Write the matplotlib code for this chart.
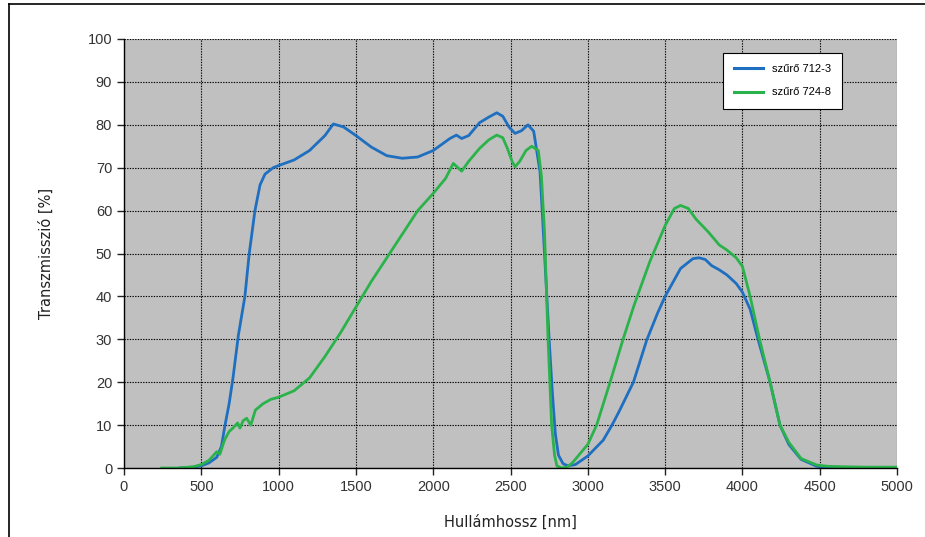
import matplotlib
matplotlib.use("Agg")
import matplotlib.pyplot as plt
from matplotlib.lines import Line2D

## DATA
# szűrő 712-3 (blue)
blue_nm = [360, 450, 500, 550, 600, 630, 653, 680, 705, 740, 782, 810, 847, 880, 912, 965, 1000,
           1100, 1200, 1300, 1354, 1420, 1500, 1600, 1700, 1800, 1900, 2000, 2108, 2150, 2184,
           2230, 2300, 2360, 2411, 2450, 2490, 2529, 2570, 2613, 2650, 2691, 2705, 2720, 2735,
           2750, 2770, 2790, 2810, 2840, 2872, 2920, 3000, 3100, 3155, 3200, 3295, 3381, 3450,
           3500, 3600, 3680, 3720, 3760, 3800, 3850, 3900, 3960, 4000, 4050, 4101, 4179, 4243,
           4300, 4380, 4481, 4550, 4650, 4800, 5000]
blue_val = [0, 0.2, 0.5, 1.2, 2.5, 5, 9.9, 15, 21, 31, 40, 50, 60, 66, 68.5, 70, 70.5,
            71.8, 74, 77.5, 80.2, 79.5, 77.5, 74.8, 72.8, 72.2, 72.5, 74, 76.8, 77.6, 76.8,
            77.5, 80.5, 81.8, 82.8, 82, 79.5, 78, 78.6, 80, 78.5, 69, 60, 50, 40,
            30, 18, 8, 3, 1, 0.5, 0.8, 2.8, 6.5, 9.9, 13, 20, 29.8, 36,
            40, 46.5, 48.8, 49, 48.6, 47.2, 46.2, 45, 43, 41, 37, 30, 20, 10,
            5.5, 2, 0.4, 0.2, 0.1, 0, 0]

# szűrő 724-8 (green)
green_nm = [244, 350, 450, 500, 550, 580, 600, 620, 650, 680, 710, 735, 750, 770, 793, 820,
            850, 900, 950, 1000, 1100, 1200, 1300, 1400, 1500, 1600, 1700, 1800, 1900, 2000,
            2080, 2130, 2160, 2184, 2230, 2300, 2360, 2411, 2450, 2480, 2510, 2529, 2560, 2600,
            2637, 2680, 2700, 2720, 2743, 2766, 2785, 2800, 2830, 2865, 2900, 3000, 3057, 3144,
            3228, 3300, 3400, 3500, 3560, 3600, 3650, 3700, 3780, 3850, 3900, 3960, 4000, 4050,
            4111, 4179, 4243, 4300, 4380, 4481, 4550, 4650, 4800, 5000]
green_val = [0, 0, 0.3, 0.8, 1.8, 3, 3.8, 3.2, 6.5, 8.5, 9.5, 10.5, 9.3, 11, 11.6, 10,
             13.5, 15, 16, 16.5, 18, 21, 26, 31.5, 37.5, 43.5, 49, 54.5, 60, 64,
             67.5, 71, 70, 69.2, 71.5, 74.5, 76.5, 77.6, 77, 74.5, 71.5, 70.2, 71.5, 74,
             75, 74, 68, 55, 30, 10, 3, 0.5, 0, 0.2, 1.2, 5.5, 10, 20,
             30, 38, 48, 56.5, 60.5, 61.2, 60.5, 58, 55, 52, 50.8, 49, 47, 40,
             30, 20, 10, 6, 2.2, 0.7, 0.4, 0.3, 0.2, 0.2]

x_ticks = list(range(0, 5001, 500))
y_ticks = list(range(0, 101, 10))

BLUE = "#1f6fc0"
GREEN = "#2bb34b"

fig = plt.figure(figsize=(9.25, 5.37), dpi=100, facecolor="white")
ax = fig.add_axes([124 / 925, 1 - 468 / 537, (897 - 124) / 925, (468 - 39) / 537])
ax.set_facecolor("#c0c0c0")

ax.plot(blue_nm, blue_val, color=BLUE, lw=2.0, solid_joinstyle="round")
ax.plot(green_nm, green_val, color=GREEN, lw=2.0, solid_joinstyle="round")

ax.set_xlim(0, 5000)
ax.set_ylim(0, 100)
ax.set_xticks(x_ticks)
ax.set_yticks(y_ticks)
ax.grid(True, color="black", linestyle=(0, (1.2, 1.2)), linewidth=0.8)
ax.set_axisbelow(True)

for side in ["top", "right"]:
    ax.spines[side].set_visible(False)
for side in ["left", "bottom"]:
    ax.spines[side].set_linewidth(1.0)

ax.tick_params(direction="out", length=5, width=1, labelsize=10.5, colors="#222222",
               labelcolor="#333333")
for lab in ax.get_xticklabels() + ax.get_yticklabels():
    lab.set_fontfamily("Liberation Sans")

ax.set_xlabel("Hullámhossz [nm]", fontsize=10.5, family="DejaVu Sans", labelpad=15, color="#222222")
ax.set_ylabel("Transzmisszió [%]", fontsize=10.5, family="DejaVu Sans", labelpad=24, color="#222222")

# legend box
handles = [Line2D([], [], color=BLUE, lw=2.2), Line2D([], [], color=GREEN, lw=2.2)]
leg = ax.legend(handles, ["szűrő 712-3", "szűrő 724-8"], loc="upper left",
                bbox_to_anchor=((723 - 124) / 773, 1 - (53 - 39) / 429),
                fancybox=False, framealpha=1, edgecolor="black", handlelength=2.6,
                borderpad=1.0, labelspacing=1.2, handletextpad=0.8, borderaxespad=0,
                prop={"family": "Liberation Sans", "size": 8})
leg.get_frame().set_linewidth(0.8)

# outer frame (only left and top visible in the reference)
fig.add_artist(Line2D([9 / 925, 9 / 925], [0, 1 - 4 / 537], transform=fig.transFigure,
                      color="black", lw=1.2))
fig.add_artist(Line2D([9 / 925, 1], [1 - 4 / 537, 1 - 4 / 537], transform=fig.transFigure,
                      color="black", lw=1.2))

fig.savefig("out.png", dpi=100, facecolor="white")
